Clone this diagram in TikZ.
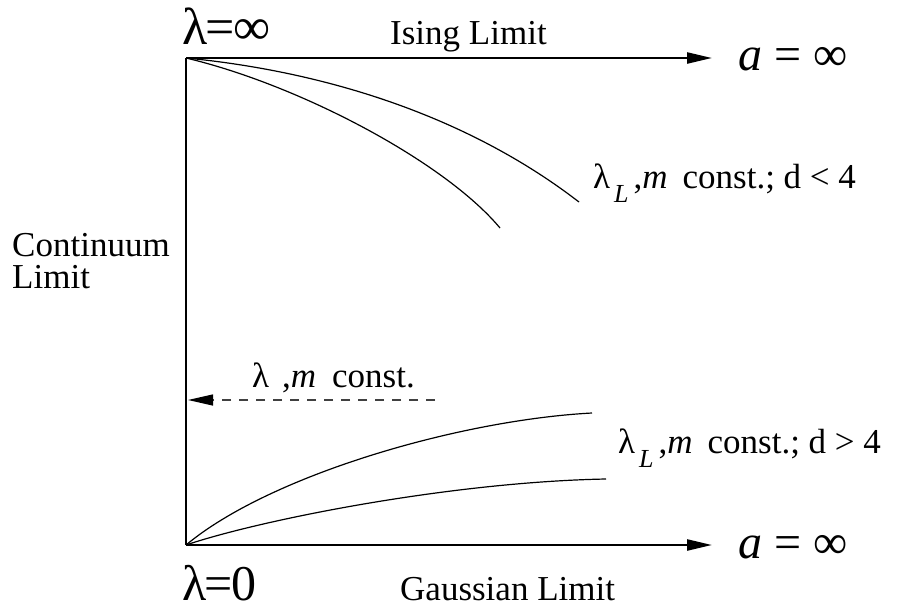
\documentclass[tikz,border=0pt]{standalone}
\usepackage{fontspec}
\setmainfont{Liberation Serif}
\usetikzlibrary{arrows.meta}

\begin{document}
\begin{tikzpicture}[x=1pt, y=-1pt,
  axis/.style={line width=2.4pt},
  arrowaxis/.style={axis, -{Triangle[length=25pt, width=11pt]}},
  flow/.style={line width=1.2pt},
  backflow/.style={line width=1.2pt, black!75, dash pattern=on 9pt off 8pt, -{Triangle[length=25pt, width=11pt, black]}},
  label/.style={inner sep=0pt, anchor=base west, font=\fontsize{35}{32}\selectfont},
  biglabel/.style={label, font=\fontsize{52}{60}\selectfont},
  limlabel/.style={label, font=\fontsize{48}{56}\selectfont},
]
\useasboundingbox (0,0) rectangle (911,613);
% corners of the axes
\coordinate (ising)   at (186,58);
\coordinate (gauss)   at (186,545);
\coordinate (isingend) at (712,58);
\coordinate (gaussend) at (712,545);
\coordinate (dashstart) at (435,400);
\coordinate (dashend)   at (188,400);
% ends of the flows
\coordinate (dlA) at (579,202);
\coordinate (dlB) at (500,228);
\coordinate (dgA) at (592,413);
\coordinate (dgB) at (606,479);

\draw[axis] (ising) -- (gauss);
\draw[arrowaxis] (ising) -- (isingend);
\draw[arrowaxis] (gauss) -- (gaussend);
\draw[backflow] (dashstart) -- (dashend);

% flows, d < 4
\draw[flow] (ising) .. controls (330,72) and (470,118) .. (dlA);
\draw[flow] (ising) .. controls (300,85) and (445,162) .. (dlB);
% flows, d > 4
\draw[flow] (gauss) .. controls (270,475) and (460,420) .. (dgA);
\draw[flow] (gauss) .. controls (260,520) and (450,482) .. (dgB);

% labels
\node[biglabel] (laminf) at (182,44) {λ\kern-2pt=\kern-1pt∞};
\node[biglabel, font=\fontsize{50}{58}\selectfont] (lamzero) at (182,600) {λ\kern-2pt=\kern-1pt0};
\node[label] (isinglim) at (390,45) {Ising Limit};
\node[label] (gausslim) at (400,600) {Gaussian Limit};
\node[limlabel] (ainftop) at (738,70) {\textit{a} = ∞};
\node[limlabel] (ainfbot) at (738,558) {\textit{a} = ∞};
\node[label, anchor=north west, align=left] (contlim) at (12,233) {Continuum\\Limit};
\node[label] (lamconst) at (252,387) {λ\hspace{13pt},\textit{m}\hspace{16pt}const.};
\node[label] (dless) at (593,188)
  {λ\hspace{4pt}\raisebox{-14pt}{\fontsize{26}{26}\selectfont\textit{L}}\hspace{5pt},\textit{m}\hspace{15pt}const.; d < 4};
\node[label] (dmore) at (618,453)
  {λ\hspace{4pt}\raisebox{-14pt}{\fontsize{26}{26}\selectfont\textit{L}}\hspace{5pt},\textit{m}\hspace{15pt}const.; d > 4};
\end{tikzpicture}
\end{document}
